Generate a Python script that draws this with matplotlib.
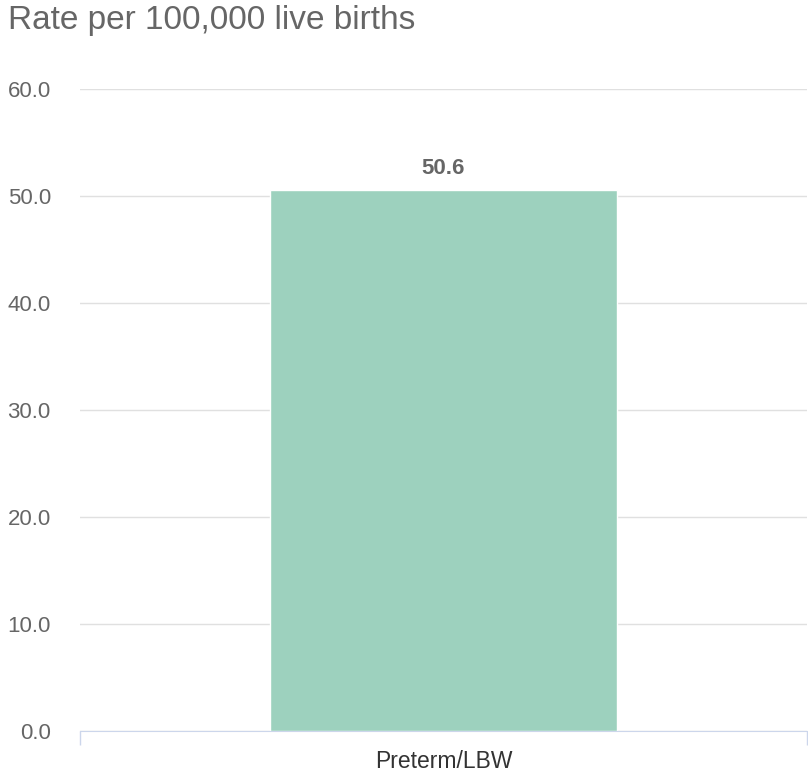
import matplotlib
matplotlib.use("Agg")
import matplotlib.pyplot as plt

categories = ["Preterm/LBW"]
values = [50.6]
yticks = [0, 10, 20, 30, 40, 50, 60]

plt.rcParams['font.family'] = ['Liberation Sans', 'DejaVu Sans']

fig = plt.figure(figsize=(8.08, 7.75), dpi=100)
ax = fig.add_axes([80/808, 44/775, 727/808, (731-89)/775])

x = list(range(len(categories)))
bars = ax.bar(x, values, width=0.477, color="#9dd1be", edgecolor="white", linewidth=1, zorder=3)
for xi, v in zip(x, values):
    ax.annotate(f"{v:.1f}", (xi, v), xytext=(0, 15), textcoords="offset points",
                ha="center", va="center", fontsize=16, fontweight="bold", color="#666666")

ax.set_xlim(-0.5, len(categories) - 0.5)
ax.set_ylim(0, 60)
ax.set_yticks(yticks)
ax.set_yticklabels([f"{t:.1f}" for t in yticks])
ax.set_xticks(x)
ax.set_xticklabels(categories)
ax.set_xticks([-0.5, len(categories) - 0.5], minor=True)
ax.tick_params(axis="x", which="major", length=0, pad=14, labelsize=16.5, labelcolor="#333333")
ax.tick_params(axis="x", which="minor", length=10, color="#ccd6eb", width=1)
ax.tick_params(axis="y", length=0, pad=21, labelsize=16, labelcolor="#666666")

ax.grid(axis="y", color="#e0e0e0", linewidth=1, zorder=0)
for s in ["top", "right", "left"]:
    ax.spines[s].set_visible(False)
ax.spines["bottom"].set_color("#ccd6eb")
ax.spines["bottom"].set_zorder(4)

fig.text(8/808, 1 - 20/775, "Rate per 100,000 live births", fontsize=24, color="#666666",
         ha="left", va="center")

fig.savefig("out.png", dpi=100)
